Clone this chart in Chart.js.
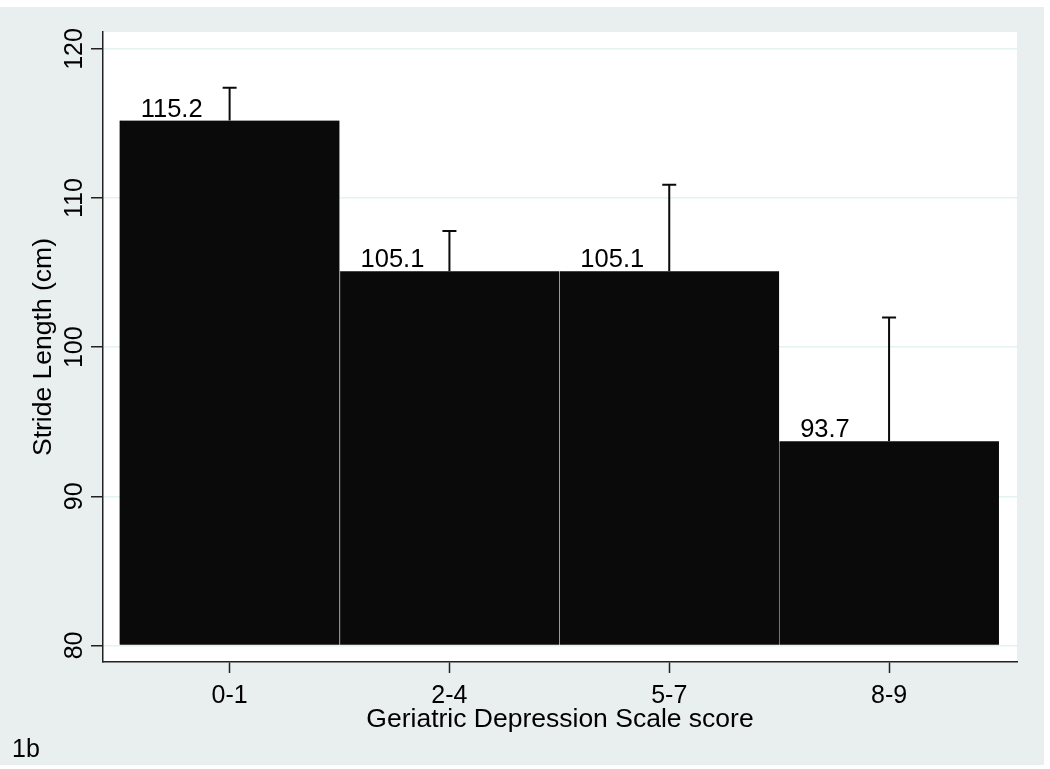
<!DOCTYPE html>
<html>
<head>
<meta charset="utf-8">
<script src="https://cdn.jsdelivr.net/npm/chart.js@4/dist/chart.umd.min.js"></script>
<style>
  body { margin: 0; background: #fff; }
  canvas { display: block; }
</style>
</head>
<body>
<canvas id="chart" width="1050" height="769"></canvas>
<script>
const categories = ["0-1", "2-4", "5-7", "8-9"];
const strideMeans = [115.2, 105.1, 105.1, 93.7];
const strideUpper = [117.4, 107.8, 110.9, 102.0];
const yTicks = [80, 90, 100, 110, 120];

const FONT = "'Liberation Sans', Arial, sans-serif";

// stata-ish backdrop: gray graph region, white plot region
const backdrop = {
  id: "backdrop",
  beforeDraw(chart) {
    const ctx = chart.ctx;
    const a = chart.chartArea;
    ctx.save();
    ctx.fillStyle = "#ffffff";
    ctx.fillRect(0, 0, chart.width, chart.height);
    ctx.fillStyle = "#e9eeee";
    ctx.fillRect(0, 7, 1044, 758);
    ctx.fillStyle = "#ffffff";
    ctx.fillRect(a.left, a.top, a.right - a.left, a.bottom - a.top);
    ctx.restore();
  },
  afterDraw(chart) {
    const ctx = chart.ctx;
    ctx.save();
    ctx.fillStyle = "#000";
    ctx.font = "25px " + FONT;
    ctx.textBaseline = "middle";
    ctx.textAlign = "left";
    ctx.fillText("1b", 12, 750);
    ctx.restore();
  }
};

// upper error bars + value labels
const barExtras = {
  id: "barExtras",
  afterDatasetsDraw(chart) {
    const ctx = chart.ctx;
    const x = chart.scales.x;
    const y = chart.scales.y;
    const bars = chart.getDatasetMeta(0).data;
    ctx.save();
    ctx.strokeStyle = "#0a0a0a";
    ctx.lineWidth = 2;
    strideUpper.forEach((v, i) => {
      const px = x.getPixelForValue(i);
      const top = y.getPixelForValue(v);
      const base = y.getPixelForValue(strideMeans[i]);
      ctx.beginPath();
      ctx.moveTo(px, base);
      ctx.lineTo(px, top);
      ctx.moveTo(px - 7, top);
      ctx.lineTo(px + 7, top);
      ctx.stroke();
    });
    ctx.fillStyle = "#000";
    ctx.font = "25.5px " + FONT;
    ctx.textAlign = "left";
    ctx.textBaseline = "alphabetic";
    bars.forEach((bar, i) => {
      const left = bar.x - bar.width / 2;
      ctx.fillText(strideMeans[i].toFixed(1), left + 21, bar.y - 4);
    });
    ctx.restore();
  }
};

new Chart(document.getElementById("chart"), {
  type: "bar",
  data: {
    datasets: [{
      data: strideMeans.map((v, i) => ({ x: i, y: v })),
      base: 80,
      backgroundColor: "#0a0a0a",
      borderColor: ["#0a0a0a", "#8a8a8a", "#9a9a9a", "#8a8a8a"],
      borderWidth: { left: 1, right: 0, top: 0, bottom: 0 },
      borderSkipped: false,
      barPercentage: 1,
      categoryPercentage: 1
    }]
  },
  options: {
    responsive: false,
    animation: false,
    layout: { padding: { left: 0, top: 32, right: 33, bottom: 0 } },
    plugins: {
      legend: { display: false },
      tooltip: { enabled: false }
    },
    scales: {
      x: {
        type: "linear",
        offset: false,
        min: -0.576,
        max: 3.582,
        afterBuildTicks: (s) => { s.ticks = categories.map((c, i) => ({ value: i })); },
        afterFit: (s) => { s.height = 107; },
        ticks: {
          callback: (v) => categories[v],
          color: "#000",
          font: { family: FONT, size: 25 },
          padding: 8,
          maxRotation: 0
        },
        grid: { offset: false, drawOnChartArea: false, tickLength: 11, tickColor: "#222", tickWidth: 1.5 },
        border: { display: true, color: "#222", width: 1.5 },
        title: {
          display: true,
          text: "Geriatric Depression Scale score",
          color: "#000",
          font: { family: FONT, size: 26.5 },
          padding: { top: 0, bottom: 33 }
        }
      },
      y: {
        min: 78.89,
        max: 121.14,
        afterBuildTicks: (s) => { s.ticks = yTicks.map((v) => ({ value: v })); },
        afterFit: (s) => { s.width = 103; },
        ticks: {
          color: "#000",
          font: { family: FONT, size: 25 },
          minRotation: 90,
          maxRotation: 90,
          crossAlign: "center",
          padding: -5
        },
        grid: { color: "#e4f3f0", lineWidth: 1.5, tickLength: 12, tickColor: "#222", tickWidth: 1.5 },
        border: { display: true, color: "#222", width: 1.5 },
        title: {
          display: true,
          text: "Stride Length (cm)",
          color: "#000",
          font: { family: FONT, size: 26.5 },
          padding: { top: 28, bottom: 0 }
        }
      }
    }
  },
  plugins: [backdrop, barExtras]
});
</script>
</body>
</html>
